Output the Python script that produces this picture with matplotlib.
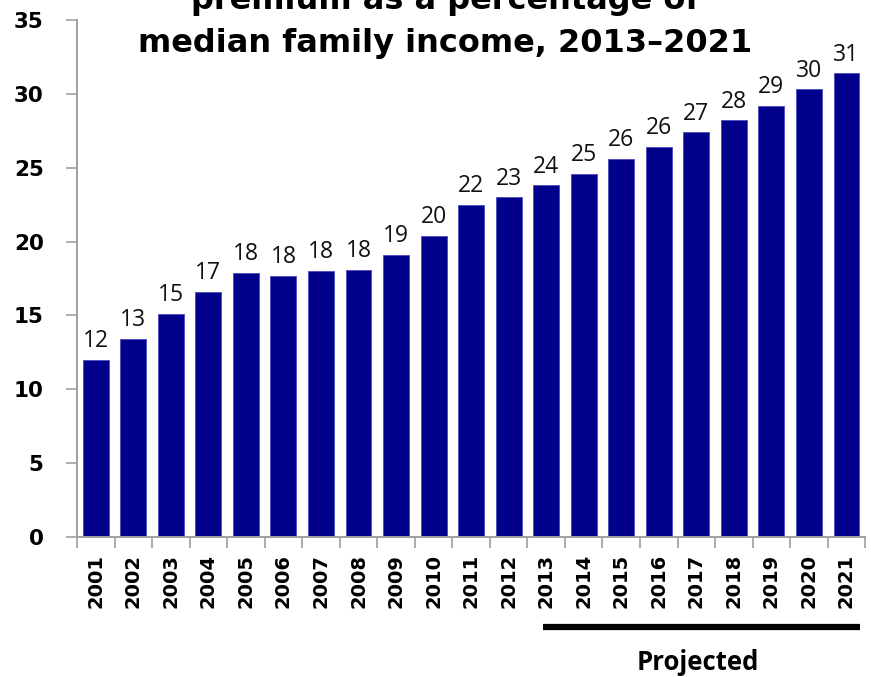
import numpy as np
import matplotlib.pyplot as plt
import matplotlib.transforms as mtransforms

years = [str(y) for y in range(2001, 2022)]
values = [12.0, 13.4, 15.1, 16.6, 17.9, 17.7, 18.0, 18.1, 19.1, 20.4, 22.5,
          23.0, 23.8, 24.6, 25.6, 26.4, 27.4, 28.2, 29.2, 30.3, 31.4]
labels = ["12", "13", "15", "17", "18", "18", "18", "18", "19", "20", "22",
          "23", "24", "25", "26", "26", "27", "28", "29", "30", "31"]
projected_from = "2013"

title_lines = ["premium as a percentage of", "median family income, 2013\u20132021"]

fig = plt.figure(figsize=(8.71, 6.77), dpi=100)
ax = fig.add_axes([0.0884, 0.2068, 0.905, 0.7637])

x = np.arange(len(years))
ax.bar(x, values, width=0.69, color="#00008B", edgecolor="#4a4ac0", linewidth=0.6)

# Value labels above bars.
for xi, v, lab in zip(x, values, labels):
    ax.text(xi, v + 0.45, lab, ha="center", va="bottom", fontsize=16.5,
            family="Open Sans", color="#111111")

ax.set_xlim(-0.5, len(years) - 0.5)
ax.set_ylim(0, 35)
ax.set_yticks(range(0, 36, 5))
ax.set_yticklabels([str(t) for t in range(0, 36, 5)], fontsize=15.5, fontweight="bold")

ax.set_xticks(x)
ax.set_xticklabels(years, rotation=90, fontsize=14, fontweight="bold")
ax.set_xticks(np.arange(-0.5, len(years)), minor=True)
ax.tick_params(axis="x", which="major", length=0, pad=12)
ax.tick_params(axis="x", which="minor", length=8, color="#a0a0a0", width=1.2)
ax.tick_params(axis="y", length=8, color="#a0a0a0", width=1.2, pad=16)

for side in ["top", "right"]:
    ax.spines[side].set_visible(False)
for side in ["left", "bottom"]:
    ax.spines[side].set_color("#a0a0a0")
    ax.spines[side].set_linewidth(1.4)

# "Projected" bracket under the tick labels.
trans = mtransforms.blended_transform_factory(ax.transData, fig.transFigure)
start = years.index(projected_from) - 0.09
ax.plot([start, len(years) - 0.65], [0.0739, 0.0739], color="black", linewidth=4.5,
        transform=trans, clip_on=False, solid_capstyle="butt")
ax.text(16.04, 0.022, "Projected", transform=trans, ha="center", va="center",
        fontsize=18.5, fontweight="bold", family="Open Sans")

# Title (top line partially cut off, as in the reference).
fig.text(0.511, 1.0, title_lines[0], ha="center", va="center", fontsize=23, fontweight="bold")
fig.text(0.511, 0.936, title_lines[1], ha="center", va="center", fontsize=23, fontweight="bold")

fig.savefig("out.png", dpi=100)
